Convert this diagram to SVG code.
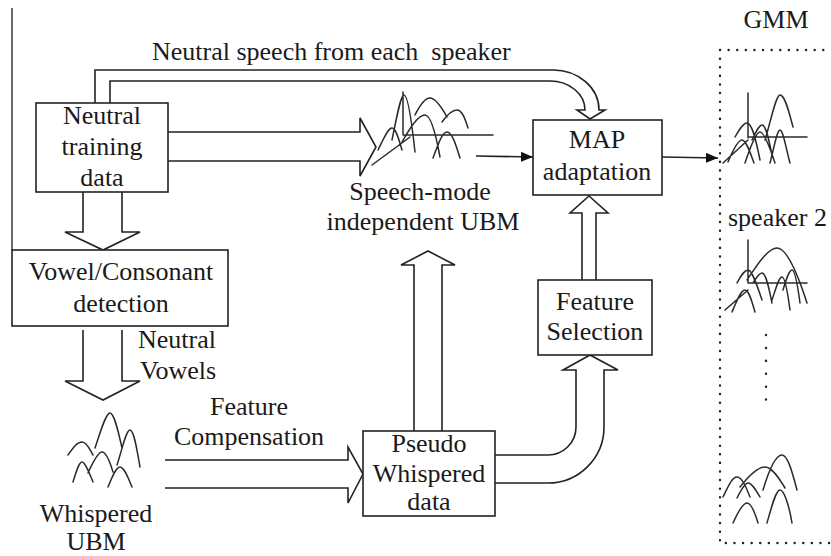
<svg xmlns="http://www.w3.org/2000/svg" width="831" height="556" viewBox="0 0 831 556">
<style>
text{font-family:'Liberation Serif','Times New Roman','DejaVu Serif',serif;font-size:26px;fill:#1a1a1a}
.c{text-anchor:middle}
.box{fill:#fff;stroke:#222;stroke-width:1.6}
.ln{fill:none;stroke:#222;stroke-width:1.6}
.crv{fill:none;stroke:#2a2a2a;stroke-width:1.5;stroke-linecap:round}
.dot{fill:none;stroke:#222;stroke-width:2.4;stroke-dasharray:0.1 8.5;stroke-linecap:round}
</style>
<defs>
<marker id="ah" markerWidth="12" markerHeight="10" refX="12" refY="5" orient="auto" markerUnits="userSpaceOnUse">
<path d="M0,0 L12,5 L0,10 Z" fill="#111"/>
</marker>
</defs>
<rect width="831" height="556" fill="#fff"/>
<line x1="12" y1="8" x2="12" y2="250" stroke="#444" stroke-width="1.6"/>

<g id="connectors">
<path class="ln" d="M95,103 V70 H553 A46,40 0 0 1 599,110 H605 L590,119 L577,110 H585 A35,29 0 0 0 550,81 H110 V103"/>
<path class="ln" d="M168,132 H360 V118 L376,147 L360,176 V161 H168"/>
<path class="ln" d="M83,192 V232 H65 L103,250 L140,232 H122 V192"/>
<path class="ln" d="M83,330 V381 H65 L103,400 L140,381 H122 V330"/>
<path class="ln" d="M165,460 H348 V447 L363,474 L348,503 V488 H165"/>
<path class="ln" d="M414,431 V265 H401 L428,251 L455,265 H442 V431"/>
<path class="ln" d="M582,280 V213 H570 L589,196 L608,213 H596 V280"/>
<path class="ln" d="M495,455 H548 A28,28 0 0 0 576,427 V370 H563 L590,355 L618,370 H604 V427 A56,56 0 0 1 548,483 H495"/>
<line class="ln" x1="476" y1="156" x2="533" y2="157" marker-end="url(#ah)"/>
<line class="ln" x1="662" y1="157" x2="718" y2="158" marker-end="url(#ah)"/>
</g>

<text x="152" y="60" xml:space="preserve">Neutral speech from each  speaker</text>

<g id="neutral-training">
<rect class="box" x="36" y="103" width="132" height="89"/>
<text class="c" x="102" y="124">Neutral</text>
<text class="c" x="102" y="155">training</text>
<text class="c" x="102" y="186">data</text>
</g>

<g id="vowel-consonant">
<rect class="box" x="12" y="250" width="216" height="76"/>
<text class="c" x="121" y="280">Vowel/Consonant</text>
<text class="c" x="121" y="312">detection</text>
</g>
<text x="138" y="348">Neutral</text>
<text x="140" y="379">Vowels</text>

<g id="ubm">
<path class="crv" d="M403,92 V134 M403,135 H493 M372,165 L410,137
M392,140 C398,110 401,95 404,95 C407,95 411,115 415,152
M415,115 C420,105 425,98 430,98 C436,98 442,108 447,117
M442,122 C447,115 452,110 457,110 C462,110 465,118 468,128
M378,150 C384,138 388,128 392,128 C396,128 399,140 402,150
M402,142 C410,128 418,115 425,115 C431,115 436,135 440,157
M433,158 C438,145 442,132 447,132 C452,132 456,145 460,158"/>
<text class="c" x="420" y="200">Speech-mode</text>
<text class="c" x="423" y="230">independent UBM</text>
</g>

<g id="map">
<rect class="box" x="533" y="120" width="129" height="75"/>
<text class="c" x="597" y="148">MAP</text>
<text class="c" x="597" y="180">adaptation</text>
</g>

<g id="feature-selection">
<rect class="box" x="538" y="280" width="114" height="75"/>
<text class="c" x="595" y="310">Feature</text>
<text class="c" x="595" y="340">Selection</text>
</g>

<g id="whispered-ubm">
<path class="crv" d="M68,455 C73,448 77,442 82,442 C87,442 90,450 93,455
M95,448 C101,430 106,413 110,413 C114,413 118,430 122,448
M117,465 C122,450 126,430 130,430 C134,430 137,450 140,467
M73,482 C76,472 79,462 82,462 C85,462 89,472 93,482
M88,473 C93,462 98,452 102,452 C106,452 110,462 113,472
M108,487 C112,477 116,467 120,467 C124,467 128,477 132,487"/>
<text class="c" x="96" y="522">Whispered</text>
<text class="c" x="96" y="550">UBM</text>
</g>

<text class="c" x="249" y="415">Feature</text>
<text class="c" x="249" y="445">Compensation</text>

<g id="pseudo-whispered">
<rect class="box" x="363" y="431" width="132" height="85"/>
<text class="c" x="429" y="452">Pseudo</text>
<text class="c" x="429" y="482">Whispered</text>
<text class="c" x="429" y="510">data</text>
</g>

<g id="gmm">
<text class="c" x="776" y="28">GMM</text>
<path class="dot" d="M720,50 V543 H831 M720,50 H831"/>
<path class="crv" d="M748,93 V138 M748,137 H807 M723,163 L748,140
M765,140 C771,120 776,95 780,95 C785,95 789,112 793,127
M735,137 C739,130 743,123 747,123 C752,123 756,140 760,160
M752,140 C756,132 759,125 762,125 C766,125 769,140 772,155
M770,163 C774,148 777,130 780,130 C783,130 786,148 790,163
M728,162 C733,150 738,140 742,140 C746,140 750,152 754,163
M745,163 C750,148 756,132 760,132 C764,132 770,148 775,163"/>
<text x="728" y="226">speaker 2</text>
<path class="crv" d="M748,240 V283 M748,283 H807 M725,310 L748,290
M747,280 C757,265 768,248 777,248 C787,248 798,275 807,303
M737,283 C741,276 744,270 748,270 C752,270 757,285 762,300
M753,283 C756,278 759,273 762,273 C766,273 769,288 772,303
M772,300 C776,288 779,277 782,277 C785,277 788,295 790,310
M783,290 C786,280 789,270 792,270 C795,270 798,288 800,303
M732,312 C737,300 741,290 745,290 C749,290 752,302 755,312"/>
<path class="dot" d="M766,335 V404" style="stroke-dasharray:0.1 12.8"/>
<path class="crv" d="M723,497 C728,487 732,477 737,477 C742,477 746,487 750,497
M737,498 C741,490 745,483 748,483 C752,483 756,490 760,497
M740,487 C748,477 757,467 765,467 C772,467 779,478 785,488
M763,490 C769,470 776,455 782,455 C788,455 793,475 797,490
M733,523 C738,512 743,503 747,503 C751,503 755,513 758,523
M767,523 C772,505 776,490 780,490 C784,490 789,505 792,523"/>
</g>
</svg>
